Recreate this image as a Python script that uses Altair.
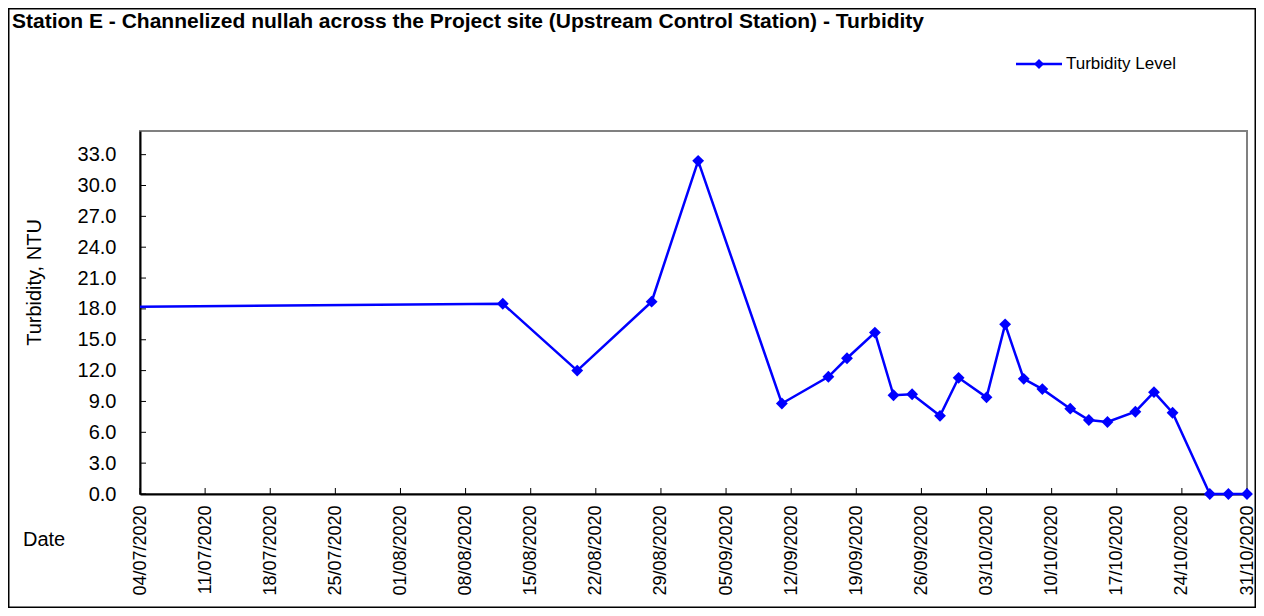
import altair as alt
import pandas as pd

# ---- data ----
dates = ["2020-07-04", "2020-08-12", "2020-08-20", "2020-08-28", "2020-09-02",
         "2020-09-11", "2020-09-16", "2020-09-18", "2020-09-21", "2020-09-23",
         "2020-09-25", "2020-09-28", "2020-09-30", "2020-10-03", "2020-10-05",
         "2020-10-07", "2020-10-09", "2020-10-12", "2020-10-14", "2020-10-16",
         "2020-10-19", "2020-10-21", "2020-10-23", "2020-10-27", "2020-10-29",
         "2020-10-31"]
turbidity = [18.2, 18.5, 12.0, 18.7, 32.4,
             8.8, 11.4, 13.2, 15.7, 9.6,
             9.7, 7.6, 11.3, 9.4, 16.5,
             11.2, 10.2, 8.3, 7.2, 7.0,
             8.0, 9.9, 7.9, 0.0, 0.0,
             0.0]
tick_dates = ["2020-07-04", "2020-07-11", "2020-07-18", "2020-07-25", "2020-08-01",
              "2020-08-08", "2020-08-15", "2020-08-22", "2020-08-29", "2020-09-05",
              "2020-09-12", "2020-09-19", "2020-09-26", "2020-10-03", "2020-10-10",
              "2020-10-17", "2020-10-24", "2020-10-31"]
y_ticks = [0, 3, 6, 9, 12, 15, 18, 21, 24, 27, 30, 33]
y_max = 35.3

title_text = "Station E - Channelized nullah across the Project site (Upstream Control Station) - Turbidity"
series_name = "Turbidity Level"

FONT = "Liberation Sans"
BLUE = "#0000FF"
W, H = 1107, 363
PAD = {"left": 132, "top": 123, "right": 9, "bottom": 114}


def dt(s):
    y, m, d = (int(p) for p in s.split("-"))
    return alt.DateTime(year=y, month=m, date=d, utc=True)


df = pd.DataFrame({"date": dates, "value": turbidity})
df_pts = df.iloc[1:]
df_xt = pd.DataFrame({"date": tick_dates, "value": [0] * len(tick_dates)})
df_yt = pd.DataFrame({"date": [tick_dates[0]] * len(y_ticks), "value": y_ticks})
one = pd.DataFrame({"a": [0]})

x_enc = alt.X(
    "date:T",
    scale=alt.Scale(type="utc", domain=[dt(tick_dates[0]), dt(tick_dates[-1])]),
    axis=alt.Axis(
        values=[dt(s) for s in tick_dates],
        format="%d/%m/%Y",
        labelAngle=270,
        labelAlign="right",
        labelBaseline="middle",
        labelPadding=11,
        labelFontSize=18,
        labelFlush=False,
        labelOverlap=False,
        title=None,
    ),
)
y_enc = alt.Y(
    "value:Q",
    scale=alt.Scale(domain=[0, y_max], nice=False),
    axis=alt.Axis(
        values=y_ticks,
        format=".1f",
        labelFontSize=20,
        labelPadding=24,
        title="Turbidity, NTU",
        titleFontSize=20,
        titleFontWeight="normal",
        titleAngle=270,
        titleX=-106,
        titleY=151,
        titleAlign="center",
        titleBaseline="middle",
    ),
)

xticks = alt.Chart(df_xt).mark_rule(color="black", strokeWidth=1).encode(
    x=x_enc, y=alt.value(H), y2=alt.value(H - 6)
)
yticks = alt.Chart(df_yt).mark_rule(color="black", strokeWidth=1).encode(
    y=y_enc, x=alt.value(0), x2=alt.value(6)
)
line = alt.Chart(df).mark_line(color=BLUE, strokeWidth=2.5).encode(x=x_enc, y=y_enc)
pts = alt.Chart(df_pts).mark_point(
    shape="diamond", filled=True, color=BLUE, size=140, opacity=1
).encode(x=x_enc, y=y_enc)

title = alt.Chart(one).mark_text(
    text=title_text, font=FONT, fontSize=21, fontWeight="bold", color="black",
    align="left", baseline="alphabetic"
).encode(x=alt.value(-128), y=alt.value(-103))

date_lbl = alt.Chart(one).mark_text(
    text="Date", font=FONT, fontSize=20, color="black", align="left", baseline="middle"
).encode(x=alt.value(-117), y=alt.value(409))

leg_line = alt.Chart(one).mark_rule(color=BLUE, strokeWidth=2.5).encode(
    x=alt.value(876), x2=alt.value(922), y=alt.value(-67)
)
leg_pt = alt.Chart(one).mark_point(
    shape="diamond", filled=True, color=BLUE, size=100, opacity=1
).encode(x=alt.value(899), y=alt.value(-67))
leg_txt = alt.Chart(one).mark_text(
    text=series_name, font=FONT, fontSize=17, color="black", align="left", baseline="middle"
).encode(x=alt.value(926), y=alt.value(-67))

frame = alt.Chart(one).mark_rect(fill=None, stroke="black", strokeWidth=1.5).encode(
    x=alt.value(-PAD["left"] + 0.75), x2=alt.value(W + PAD["right"] - 0.75),
    y=alt.value(-PAD["top"] + 0.75), y2=alt.value(H + PAD["bottom"] - 0.75)
)

chart = alt.layer(
    xticks, yticks, line, pts, title, date_lbl, leg_line, leg_pt, leg_txt, frame
).properties(
    width=W,
    height=H,
    autosize=alt.AutoSizeParams(type="none"),
    padding=PAD,
    background="white",
).configure_view(
    stroke="#808080", strokeWidth=2
).configure_axis(
    domainColor="black",
    domainWidth=2,
    ticks=False,
    tickSize=0,
    grid=False,
    labelFont=FONT,
    labelColor="black",
    titleFont=FONT,
    titleColor="black",
)

chart.save("out.html", embed_options={"renderer": "svg", "actions": False})
